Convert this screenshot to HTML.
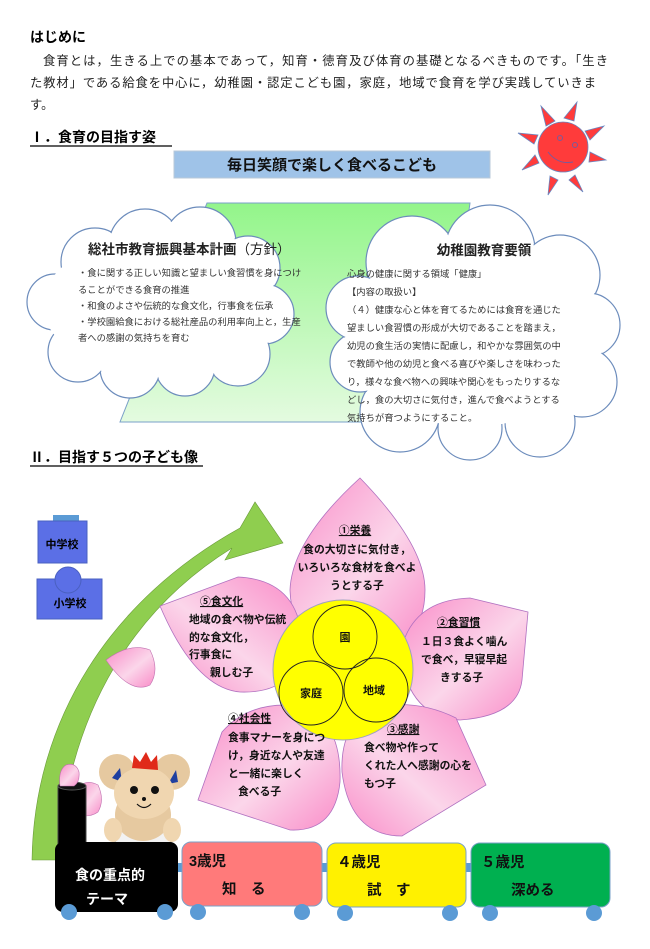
<!DOCTYPE html>
<html><head><meta charset="utf-8"><style>
html,body{margin:0;padding:0;background:#fff;}
svg{display:block;font-family:"Liberation Sans","Noto Sans CJK JP",sans-serif;}
.b{font-weight:bold;}
</style></head><body>
<svg width="650" height="949" viewBox="0 0 650 949" xmlns="http://www.w3.org/2000/svg">
<defs>
<linearGradient id="gr" x1="0" y1="0" x2="0" y2="1"><stop offset="0" stop-color="#93f58a"/><stop offset="1" stop-color="#e4fbe0"/></linearGradient>
<linearGradient id="pk" x1="0" y1="0" x2="1" y2="1"><stop offset="0" stop-color="#f98cc8"/><stop offset="0.55" stop-color="#fbd6ea"/><stop offset="1" stop-color="#f98cc8"/></linearGradient>
<linearGradient id="pk2" x1="1" y1="0" x2="0" y2="1"><stop offset="0" stop-color="#f98cc8"/><stop offset="0.55" stop-color="#fbd6ea"/><stop offset="1" stop-color="#f98cc8"/></linearGradient>
</defs>
<text x="30" y="42" font-size="14" class="b">はじめに</text>
<text font-size="12.3" fill="#222">
<tspan x="43" y="65" textLength="565" lengthAdjust="spacing">食育とは，生きる上での基本であって，知育・徳育及び体育の基礎となるべきものです。「生き</tspan>
<tspan x="30" y="87" textLength="566" lengthAdjust="spacing">た教材」である給食を中心に，幼稚園・認定こども園，家庭，地域で食育を学び実践していきま</tspan>
<tspan x="30" y="109">す。</tspan></text>
<text x="30" y="142" font-size="14" class="b">Ⅰ．食育の目指す姿</text>
<line x1="30" y1="146" x2="172" y2="146" stroke="#000" stroke-width="1.3"/>
<rect x="174" y="151" width="316" height="27" fill="#9fc3e8" stroke="#b8c8d8"/>
<text x="332" y="170" font-size="15" text-anchor="middle" class="b" fill="#111">毎日笑顔で楽しく食べるこども</text>
<g fill="#ff3b3b" stroke="#6a86c0" stroke-width="0.8">
<polygon points="541,106 555,121 546,126"/><polygon points="577,102 574,121 564,118"/>
<polygon points="604,126 590,140 585,131"/><polygon points="606,160 589,162 590,152"/>
<polygon points="583,192 575,175 569,180"/><polygon points="548,195 550,176 558,180"/>
<polygon points="522,170 535,155 539,163"/><polygon points="518,133 538,135 534,144"/>
<circle cx="563" cy="147" r="25"/></g>
<circle cx="560" cy="138" r="2.5" fill="none" stroke="#7a5a9a"/><circle cx="575" cy="145" r="2.5" fill="none" stroke="#7a5a9a"/>
<path d="M548,152 Q558,165 573,162" fill="none" stroke="#7a5a9a"/>
<polygon points="207,203 470,203 440,422 120,422" fill="url(#gr)" stroke="#7aa0c8"/>
<!-- left cloud -->
<g fill="#fff" stroke="#6c8cbc" stroke-width="1.2">
<circle cx="95" cy="262" r="34"/><circle cx="145" cy="245" r="36"/><circle cx="200" cy="243" r="36"/><circle cx="248" cy="268" r="32"/><circle cx="264" cy="314" r="30"/><circle cx="238" cy="354" r="32"/><circle cx="185" cy="366" r="30"/><circle cx="130" cy="368" r="30"/><circle cx="78" cy="352" r="30"/><circle cx="55" cy="302" r="28"/></g>
<g fill="#fff"><circle cx="95" cy="262" r="33"/><circle cx="145" cy="245" r="35"/><circle cx="200" cy="243" r="35"/><circle cx="248" cy="268" r="31"/><circle cx="264" cy="314" r="29"/><circle cx="238" cy="354" r="31"/><circle cx="185" cy="366" r="29"/><circle cx="130" cy="368" r="29"/><circle cx="78" cy="352" r="29"/><circle cx="55" cy="302" r="27"/><ellipse cx="155" cy="305" rx="112" ry="68"/></g>
<text x="88" y="254" font-size="13.5" class="b" fill="#222">総社市教育振興基本計画<tspan font-weight="normal">（方針）</tspan></text>
<text font-size="9.3" fill="#333"><tspan x="78" y="276">・食に関する正しい知識と望ましい食習慣を身につけ</tspan><tspan x="78" y="293">ることができる食育の推進</tspan><tspan x="78" y="309">・和食のよさや伝統的な食文化，行事食を伝承</tspan><tspan x="78" y="325">・学校園給食における総社産品の利用率向上と，生産</tspan><tspan x="78" y="341">者への感謝の気持ちを育む</tspan></text>
<!-- right cloud -->
<g fill="#fff" stroke="#6c8cbc" stroke-width="1.2">
<circle cx="412" cy="262" r="46"/><circle cx="490" cy="250" r="45"/><circle cx="560" cy="275" r="40"/><circle cx="588" cy="325" r="32"/><circle cx="582" cy="382" r="35"/><circle cx="540" cy="422" r="35"/><circle cx="470" cy="428" r="32"/><circle cx="400" cy="412" r="40"/><circle cx="360" cy="362" r="30"/><circle cx="358" cy="308" r="32"/></g>
<g fill="#fff"><circle cx="412" cy="262" r="45"/><circle cx="490" cy="250" r="44"/><circle cx="560" cy="275" r="39"/><circle cx="588" cy="325" r="31"/><circle cx="582" cy="382" r="34"/><circle cx="540" cy="422" r="34"/><circle cx="470" cy="428" r="31"/><circle cx="400" cy="412" r="39"/><circle cx="360" cy="362" r="29"/><circle cx="358" cy="308" r="31"/><ellipse cx="472" cy="335" rx="118" ry="92"/></g>
<text x="484" y="255" font-size="13.5" class="b" fill="#222" text-anchor="middle">幼稚園教育要領</text>
<text font-size="9.3" fill="#333"><tspan x="347" y="277">心身の健康に関する領域「健康」</tspan><tspan x="347" y="295">【内容の取扱い】</tspan><tspan x="347" y="313">（４）健康な心と体を育てるためには食育を通じた</tspan><tspan x="347" y="331">望ましい食習慣の形成が大切であることを踏まえ，</tspan><tspan x="347" y="349">幼児の食生活の実情に配慮し，和やかな雰囲気の中</tspan><tspan x="347" y="367">で教師や他の幼児と食べる喜びや楽しさを味わった</tspan><tspan x="347" y="385">り，様々な食べ物への興味や関心をもったりするな</tspan><tspan x="347" y="403">どし，食の大切さに気付き，進んで食べようとする</tspan><tspan x="347" y="421">気持ちが育つようにすること。</tspan></text>
<text x="30" y="462" font-size="14" class="b">Ⅱ．目指す５つの子ども像</text>
<line x1="30" y1="466" x2="203" y2="466" stroke="#000" stroke-width="1.3"/>
<!-- buildings -->
<rect x="53" y="515" width="26" height="7" fill="#5b9bd5"/>
<rect x="38" y="521" width="49" height="42" fill="#5b6fe6" stroke="#4a60c0"/>
<text x="62" y="548" font-size="11" class="b" text-anchor="middle">中学校</text>
<rect x="37" y="579" width="65" height="40" fill="#5b6fe6" stroke="#4a60c0"/>
<circle cx="68" cy="580" r="13" fill="#5b6fe6" stroke="#4a60c0"/>
<text x="70" y="607" font-size="11" class="b" text-anchor="middle">小学校</text>
<!-- green arrow -->
<path d="M32,860 C34,720 110,600 240,528 L255,502 L283,543 L225,560 L232,548 C140,605 68,705 58,860 Z" fill="#8fce4f" stroke="#6a9a3a" stroke-width="0.6"/>
<path d="M106,660 Q130,642 150,650 Q160,670 150,685 Q130,695 106,660Z" fill="url(#pk)" stroke="#c070b0" stroke-width="0.6"/>
<path d="M75,815 L75,790 Q85,778 98,785 Q105,800 98,812 Q90,818 75,815Z" fill="url(#pk)" stroke="#c070b0" stroke-width="0.6"/>
<g stroke="#b070c0" stroke-width="0.8">
<path d="M360,478 Q292,540 290,590 Q292,652 357,652 Q425,652 425,590 Q425,545 360,478Z" fill="url(#pk)"/>
<path d="M160,606 L238,577 Q298,580 302,640 Q298,694 240,692 Q195,688 160,606Z" fill="url(#pk2)"/>
<path d="M528,612 L470,598 Q410,600 400,655 Q410,718 460,720 Q518,716 522,680 Z" fill="url(#pk)"/>
<path d="M198,800 L222,732 Q250,700 300,706 Q342,720 340,782 Q335,832 290,830 Z" fill="url(#pk)"/>
<path d="M486,785 L456,718 Q420,700 380,706 Q340,720 342,772 Q350,836 402,836 Z" fill="url(#pk2)"/>
</g>
<circle cx="343" cy="670" r="70" fill="#ffff00" stroke="#a0a0c0"/>
<g fill="none" stroke="#222" stroke-width="0.9"><circle cx="345" cy="637" r="32"/><circle cx="311" cy="693" r="32"/><circle cx="376" cy="690" r="32"/></g>
<g font-size="11" class="b" text-anchor="middle" fill="#111"><text x="345" y="641">園</text><text x="311" y="697">家庭</text><text x="374" y="694">地域</text></g>
<g font-size="10.8" class="b" fill="#111">
<text x="355" y="534" text-anchor="middle" text-decoration="underline">①栄養</text>
<text x="357" y="553" text-anchor="middle">食の大切さに気付き，</text><text x="357" y="571" text-anchor="middle">いろいろな食材を食べよ</text><text x="357" y="589" text-anchor="middle">うとする子</text>
<text x="200" y="605" text-decoration="underline">⑤食文化</text>
<text x="189" y="623">地域の食べ物や伝統</text><text x="189" y="641">的な食文化，</text><text x="189" y="658">行事食に</text><text x="210" y="676">親しむ子</text>
<text x="437" y="626" text-decoration="underline">②食習慣</text>
<text x="421" y="645">１日３食よく噛ん</text><text x="421" y="663">で食べ，早寝早起</text><text x="440" y="681">きする子</text>
<text x="228" y="722" text-decoration="underline">④社会性</text>
<text x="228" y="741">食事マナーを身につ</text><text x="228" y="759">け，身近な人や友達</text><text x="228" y="777">と一緒に楽しく</text><text x="238" y="795">食べる子</text>
<text x="387" y="733" text-decoration="underline">③感謝</text>
<text x="364" y="751">食べ物や作って</text><text x="364" y="769">くれた人へ感謝の心を</text><text x="364" y="787">もつ子</text>
</g>
<!-- mouse -->
<g>
<ellipse cx="143" cy="835" rx="30" ry="18" fill="#f2f2f2" stroke="#aaa"/>
<ellipse cx="143" cy="815" rx="28" ry="26" fill="#e6c9a0"/>
<circle cx="117" cy="772" r="18" fill="#e6c9a0"/><circle cx="172" cy="772" r="18" fill="#e6c9a0"/>
<path d="M112,778 L120,768 L122,782Z" fill="#1f3fa0"/><path d="M168,784 L176,770 L178,782Z" fill="#1f3fa0"/>
<ellipse cx="144" cy="793" rx="30" ry="26" fill="#f0d6b0"/>
<path d="M132,768 L134,755 L140,762 L146,752 L151,762 L157,755 L158,770Z" fill="#e02a1a"/>
<circle cx="134" cy="790" r="4" fill="#111"/><circle cx="155" cy="790" r="4" fill="#111"/>
<circle cx="144" cy="799" r="2" fill="#111"/><path d="M137,804 Q144,811 151,804" fill="none" stroke="#111" stroke-width="1.2"/>
<ellipse cx="113" cy="830" rx="9" ry="12" fill="#f0d6b0"/><ellipse cx="172" cy="830" rx="9" ry="12" fill="#f0d6b0"/>
</g>
<rect x="58" y="786" width="28" height="72" fill="#000" stroke="#444"/>
<ellipse cx="72" cy="786" rx="14" ry="4" fill="#111" stroke="#555"/>
<path d="M60,786 Q58,770 66,765 Q76,762 79,772 Q80,782 74,786Z" fill="url(#pk)" stroke="#c070b0" stroke-width="0.6"/>
<rect x="170" y="863" width="310" height="9" fill="#5b9bd5"/>
<rect x="55" y="842" width="123" height="70" rx="8" fill="#000"/>
<rect x="182" y="842" width="140" height="64" rx="9" fill="#ff7a7a" stroke="#7aa0c8"/>
<rect x="327" y="843" width="139" height="64" rx="9" fill="#fff100" stroke="#7aa0c8"/>
<rect x="471" y="843" width="139" height="64" rx="9" fill="#00b050" stroke="#7aa0c8"/>
<g fill="#5b9bd5"><circle cx="69" cy="912" r="8"/><circle cx="165" cy="912" r="8"/><circle cx="198" cy="912" r="8"/><circle cx="302" cy="912" r="8"/><circle cx="345" cy="913" r="8"/><circle cx="450" cy="913" r="8"/><circle cx="490" cy="913" r="8"/><circle cx="594" cy="913" r="8"/></g>
<text x="75" y="880" font-size="14" class="b" fill="#fff">食の重点的</text>
<text x="86" y="904" font-size="14" class="b" fill="#fff">テーマ</text>
<g font-size="14.5" class="b" fill="#111">
<text x="189" y="866">3歳児</text><text x="222" y="894">知　る</text>
<text x="337" y="867">４歳児</text><text x="367" y="895">試　す</text>
<text x="481" y="867">５歳児</text><text x="511" y="895">深める</text>
</g>
</svg>
</body></html>
